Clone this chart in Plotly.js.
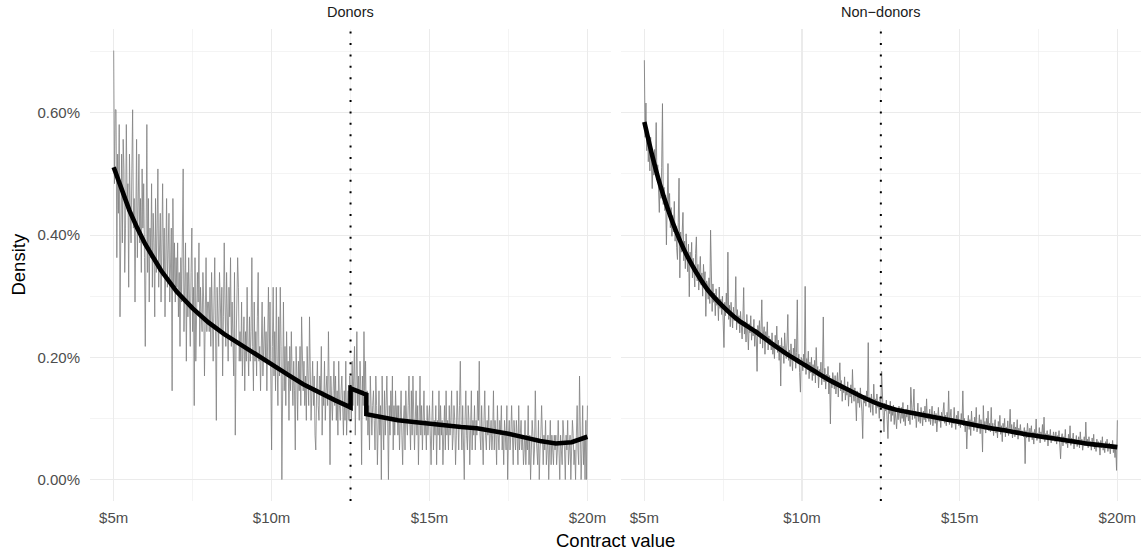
<!DOCTYPE html>
<html>
<head>
<meta charset="utf-8">
<script src="https://cdn.plot.ly/plotly-3.0.1.min.js"></script>
<style>html,body{margin:0;padding:0;background:#fff;}#chart{width:1145px;height:552px;}</style>
</head>
<body>
<div id="chart"></div>
<script>
// ---- data ----
const panels = ['Donors', 'Non\u2212donors'];
const binStart = 5;          // $m
const binWidth = 0.025;      // $m per bin
const threshold = 12.5;      // $m, dotted line

// Donors: contracts per bin; each contract = donorUnit % of density
const donorUnit = 0.0242;
const donorCounts = [
29,20,25,25,15,22,18,24,11,19, 22,16,23,21,14,17,24,19,20,13, 22,18,16,21,25,17,19,12,20,23, 15,18,22,16,19,14,21,17,20,15,
9,16,24,14,19,12,17,15,20,13, 18,16,11,19,14,17,21,13,15,18, 12,16,20,14,17,11,15,19,13,16, 18,12,14,17,6,19,13,16,12,15,
13,16,11,14,9,15,12,17,21,10, 13,16,8,14,11,15,12,9,14,17, 10,13,5,15,8,11,14,12,16,9, 13,11,10,14,12,7,13,15,10,12,
12,10,13,9,14,11,8,12,15,10, 4,13,11,9,14,12,10,13,7,11, 16,12,9,14,10,8,13,11,15,9, 12,10,7,14,3,9,12,15,13,8,
10,8,12,7,9,11,6,10,8,13, 9,7,11,8,10,15,9,6,12,8, 10,7,11,14,8,9,6,10,12,7, 9,11,8,10,6,9,13,8,12,7,
2,9,13,7,10,6,13,8,5,11, 7,13,9,0,8,12,6,9,5,10, 7,8,4,9,6,10,7,5,8,6, 2,9,7,4,8,6,9,5,11,7,
6,8,5,7,4,9,6,5,11,7, 4,6,8,5,7,3,2,6,8,5, 4,7,6,9,3,6,5,8,4,6, 7,5,10,6,1,7,5,4,6,8,
5,7,4,6,3,8,5,4,6,7, 5,3,6,4,8,3,5,6,4,7,
6,4,8,5,7,9,3,6,10,5, 7,4,8,6,1,7,5,10,6,8,
4,6,3,5,2,7,4,3,5,6, 4,2,7,5,1,4,6,3,5,0, 7,4,2,6,3,5,7,4,0,5, 3,6,4,7,2,5,3,6,4,5,
3,5,2,4,6,3,1,4,5,2, 6,4,3,5,7,4,2,6,3,7, 5,2,4,6,3,5,1,4,7,3, 5,2,4,6,3,4,2,5,3,4,
5,3,1,4,6,2,4,3,5,1, 4,3,6,2,5,3,4,1,3,5, 2,6,3,4,2,5,3,4,6,2, 3,5,4,1,3,6,4,2,5,8,
4,2,5,3,0,4,6,3,2,5, 4,1,3,6,2,4,3,5,2,4, 3,6,4,8,3,2,5,3,1,4, 6,3,2,4,3,5,2,3,4,2,
3,6,2,4,3,1,5,3,2,4, 3,5,2,3,1,4,3,2,5,0, 3,4,2,3,5,2,1,4,3,2, 4,3,1,5,2,3,4,2,3,1,
2,4,1,3,2,5,1,3,0,2, 4,3,1,2,6,3,2,1,4,0, 2,3,5,2,1,3,2,4,1,2, 3,0,2,4,1,3,2,1,3,2,
3,1,2,4,2,0,3,2,1,4, 3,2,0,3,2,4,1,2,3,0, 2,4,3,1,2,0,3,5,2,1, 7,3,0,2,5,1,3,0,4,0,
5
];

// Non-donors: density per bin in thousandths of a percent
const nonDonorMilliPct = [
686,560,616,538,575,520,548,505,560,530, 476,525,498,540,505,584,490,515,470,437, 492,460,510,615,450,478,440,465,384,452, 517,430,468,412,445,398,432,405,455,390,
415,380,360,420,493,330,405,372,395,437, 358,390,345,402,368,340,385,299,372,350, 388,330,362,345,315,370,397,325,352,310, 345,365,318,338,300,352,322,340,267,325,
318,295,330,288,408,300,275,320,290,305, 268,312,285,298,260,315,280,295,270,300, 255,216,290,268,305,275,372,262,285,250, 290,270,248,282,260,275,332,245,278,255,
268,240,275,252,230,262,314,238,258,225, 270,245,212,255,240,268,228,250,235,262, 218,245,230,177,252,236,260,222,245,294, 215,238,250,205,242,228,258,212,235,220,
230,212,240,205,225,198,236,215,251,208, 228,195,220,153,232,205,218,190,240,210, 198,225,270,195,212,185,222,200,178,215, 196,230,182,208,294,190,205,175,143,200,
196,178,205,185,316,172,198,180,210,165, 192,175,200,162,188,170,195,158,216,176, 185,150,180,168,192,155,178,266,160,182, 148,172,160,185,140,170,91,165,150,175,
165,148,170,140,158,175,135,160,191,145, 162,128,155,142,168,130,150,138,160,120, 148,135,155,125,180,140,128,150,132,96, 145,125,140,118,150,130,112,67,138,125,
138,120,145,128,224,118,135,110,140,125, 105,156,122,132,108,140,118,128,100,135, 115,177,120,105,78,125,112,130,98,67, 120,108,128,95,118,105,122,90,115,102,
83,112,98,120,105,92,118,100,126,95, 110,88,115,102,122,96,108,90,151,105, 98,118,148,100,112,85,108,125,95,110, 92,118,104,88,112,98,120,94,132,100,
108,95,115,90,105,120,88,102,112,92, 108,78,100,118,95,105,85,110,98,115, 126,92,105,88,110,96,145,90,102,115, 85,100,92,118,96,82,105,94,112,88,
98,85,108,92,145,88,100,78,95,50, 90,105,82,98,72,112,88,95,80,102, 86,118,78,92,84,106,75,98,88,45, 121,82,95,76,100,85,112,80,92,78,
118,80,92,72,88,98,76,85,68,95, 82,105,74,88,62,92,80,100,70,86, 78,96,72,84,115,76,90,68,82,94, 70,86,78,98,66,84,75,90,72,80,
78,70,85,26,80,68,92,74,62,84, 72,88,65,78,58,82,70,99,64,76, 68,85,60,78,70,90,66,102,62,75, 68,80,55,74,66,82,60,72,64,78,
70,62,78,58,72,64,80,60,34,68, 75,55,70,62,82,58,66,52,74,60, 88,56,68,62,76,50,66,58,72,54, 64,70,52,78,58,66,48,62,70,55,
94,58,66,52,70,56,62,48,68,55, 74,50,60,46,66,54,62,58,40,64, 52,70,48,58,44,62,54,66,46,56, 60,42,58,50,64,44,55,36,52,15,
97
];

// Fitted density curves (%)
const donorFitX = [5,5.25,5.5,5.75,6,6.5,7,7.5,8,8.5,9,9.5,10,10.5,11,11.5,12,12.5,12.5,13,13,13.5,14,14.5,15,15.5,16,16.5,17,17.5,18,18.5,19,19.5,20];
const donorFitY = [0.511,0.473,0.440,0.411,0.385,0.342,0.307,0.280,0.257,0.238,0.221,0.205,0.189,0.172,0.156,0.142,0.130,0.118,0.149,0.139,0.107,0.102,0.097,0.094,0.091,0.088,0.086,0.084,0.080,0.075,0.069,0.063,0.059,0.061,0.070];
const nonDonorFitX = [5,5.25,5.5,5.75,6,6.25,6.5,6.75,7,7.5,8,8.5,9,9.5,10,10.5,11,11.5,12,12.5,13,13.5,14,14.5,15,15.5,16,16.5,17,17.5,18,18.5,19,19.5,20];
const nonDonorFitY = [0.585,0.530,0.482,0.442,0.407,0.377,0.352,0.330,0.311,0.283,0.260,0.243,0.224,0.206,0.190,0.174,0.159,0.146,0.133,0.122,0.114,0.109,0.104,0.099,0.094,0.089,0.084,0.080,0.075,0.071,0.067,0.063,0.059,0.056,0.053];

const xTicks = [5, 10, 15, 20];
const xTickText = ['$5m', '$10m', '$15m', '$20m'];
const yTicks = [0, 0.2, 0.4, 0.6];
const yTickText = ['0.00%', '0.20%', '0.40%', '0.60%'];

// ---- build ----
const binX = donorCounts.map((_, i) => +(binStart + i * binWidth).toFixed(3));
const donorY = donorCounts.map(c => c * donorUnit);
const nonDonorY = nonDonorMilliPct.map(v => v / 1000);

const grey = '#808080';
const traces = [
  {x: binX, y: donorY, xaxis: 'x', yaxis: 'y', type: 'scatter', mode: 'lines', line: {color: grey, width: 0.8}, hoverinfo: 'skip'},
  {x: donorFitX, y: donorFitY, xaxis: 'x', yaxis: 'y', type: 'scatter', mode: 'lines', line: {color: '#000', width: 4.6}, hoverinfo: 'skip'},
  {x: binX, y: nonDonorY, xaxis: 'x2', yaxis: 'y2', type: 'scatter', mode: 'lines', line: {color: grey, width: 0.9}, hoverinfo: 'skip'},
  {x: nonDonorFitX, y: nonDonorFitY, xaxis: 'x2', yaxis: 'y2', type: 'scatter', mode: 'lines', line: {color: '#000', width: 4.6, shape: 'spline', smoothing: 0.6}, hoverinfo: 'skip'}
];

const gridC = '#EBEBEB';
const tickFont = {family: 'Liberation Sans, Arial, sans-serif', size: 15, color: '#4D4D4D'};
function xAxis(domain, anchor) {
  return {
    domain: domain, anchor: anchor, range: [4.25, 20.75],
    tickmode: 'array', tickvals: xTicks, ticktext: xTickText,
    showgrid: true, gridcolor: gridC, gridwidth: 1.1, zeroline: false, showline: false,
    ticks: '', ticklabelstandoff: 6, tickfont: tickFont,
    minor: {tickmode: 'array', tickvals: [7.5, 12.5, 17.5], showgrid: true, gridcolor: gridC, gridwidth: 0.55, ticks: ''}
  };
}
function yAxis(anchor, labels) {
  return {
    anchor: anchor, domain: [0, 1], range: [-0.0351, 0.7371],
    tickmode: 'array', tickvals: yTicks, ticktext: yTickText, showticklabels: labels,
    showgrid: true, gridcolor: gridC, gridwidth: 1.1, zeroline: false, showline: false,
    ticks: '', ticklabelstandoff: 9, tickfont: tickFont,
    minor: {tickmode: 'array', tickvals: [0.1, 0.3, 0.5, 0.7], showgrid: true, gridcolor: gridC, gridwidth: 0.55, ticks: ''}
  };
}

const L = 89.5, R = 3.7, T = 29, B = 51;
const W = 1145, H = 552, pw = W - L - R, ph = H - T - B;
const leftEnd = (611 - L) / pw, rightStart = (620.6 - L) / pw;

const stripFont = {family: 'Liberation Sans, Arial, sans-serif', size: 14.5, color: '#1A1A1A'};
const titleFont = {family: 'Liberation Sans, Arial, sans-serif', size: 18.5, color: '#000'};

const layout = {
  width: W, height: H,
  margin: {l: L, r: R, t: T, b: B, pad: 0},
  paper_bgcolor: '#fff', plot_bgcolor: '#fff',
  showlegend: false,
  xaxis: xAxis([0, leftEnd], 'y'),
  xaxis2: xAxis([rightStart, 1], 'y2'),
  yaxis: yAxis('x', true),
  yaxis2: yAxis('x2', false),
  shapes: [
    {type: 'line', xref: 'x', yref: 'y domain', x0: threshold, x1: threshold, y0: 0, y1: 1, line: {color: '#000', width: 2, dash: '2px,9.4px'}, layer: 'above'},
    {type: 'line', xref: 'x2', yref: 'y2 domain', x0: threshold, x1: threshold, y0: 0, y1: 1, line: {color: '#000', width: 2, dash: '2px,9.4px'}, layer: 'above'}
  ],
  annotations: [
    {text: panels[0], xref: 'paper', yref: 'paper', x: leftEnd / 2, y: (H - B - 12) / ph, xanchor: 'center', yanchor: 'middle', showarrow: false, font: stripFont},
    {text: panels[1], xref: 'paper', yref: 'paper', x: (rightStart + 1) / 2, y: (H - B - 12) / ph, xanchor: 'center', yanchor: 'middle', showarrow: false, font: stripFont},
    {text: 'Contract value', xref: 'paper', yref: 'paper', x: 0.5, y: (H - B - 540) / ph, xanchor: 'center', yanchor: 'middle', showarrow: false, font: titleFont},
    {text: 'Density', xref: 'paper', yref: 'paper', x: (17 - L) / pw, y: 0.5, xanchor: 'center', yanchor: 'middle', textangle: -90, showarrow: false, font: titleFont}
  ]
};

Plotly.newPlot('chart', traces, layout, {staticPlot: true, displayModeBar: false});
</script>
</body>
</html>
